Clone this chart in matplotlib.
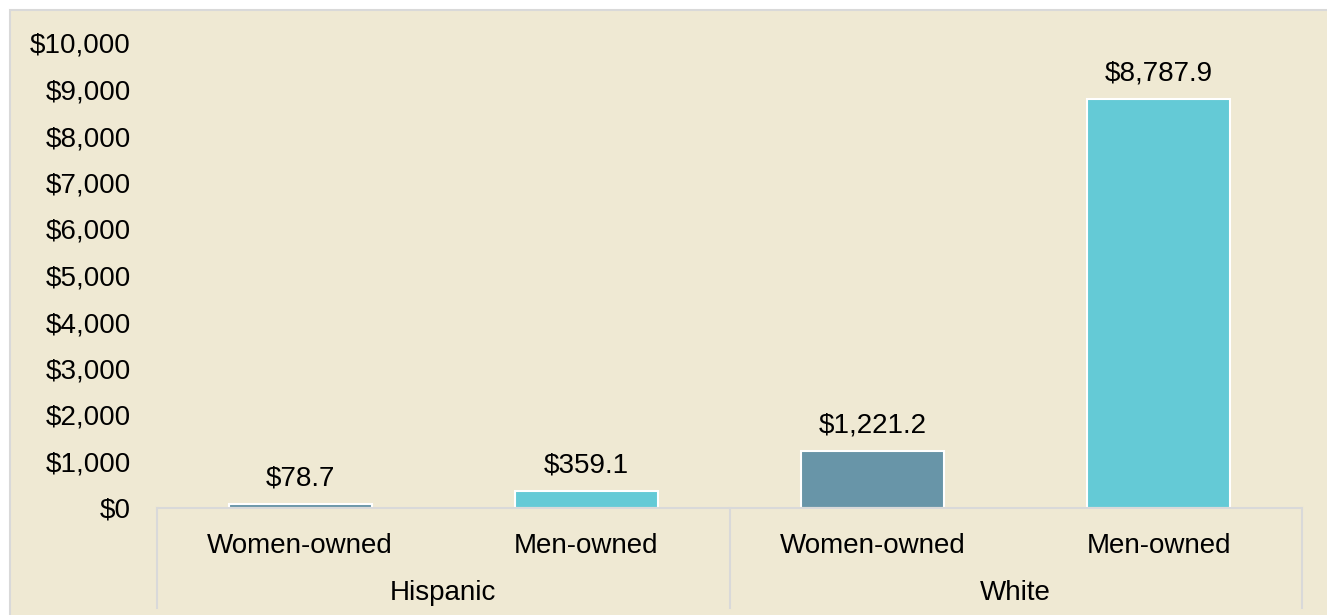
import matplotlib
matplotlib.use("Agg")
import matplotlib.pyplot as plt
from matplotlib.patches import Rectangle
from matplotlib.ticker import FuncFormatter

plt.rcParams['font.family'] = ['Liberation Sans', 'DejaVu Sans']

# data
groups = ["Hispanic", "White"]
subcats = ["Women-owned", "Men-owned", "Women-owned", "Men-owned"]
values = [78.7, 359.1, 1221.2, 8787.9]
colors = ["#6895A8", "#64CAD6", "#6895A8", "#64CAD6"]

bg = "#EFE9D3"
grid_c = "#D9D9D9"

fig = plt.figure(figsize=(13.27, 6.15), dpi=100)
fig.patch.set_facecolor("white")
fig.patches.append(Rectangle((10 / 1327, -0.01), 1.02, 0.01 + (615 - 10) / 615,
                             transform=fig.transFigure, facecolor=bg,
                             edgecolor=grid_c, linewidth=1.5, zorder=-1))

ax = fig.add_axes([157 / 1327, 1 - 508 / 615, (1302 - 157) / 1327, (508 - 43) / 615])
ax.set_facecolor("none")

x = list(range(len(values)))
bars = ax.bar(x, values, width=0.5, color=colors, edgecolor="white", linewidth=1.5, zorder=2)
ax.bar_label(bars, labels=["$" + format(v, ",.1f") for v in values], padding=9, fontsize=20)

ax.set_xlim(-0.5, len(values) - 0.5)
ax.set_ylim(0, 10000)
ax.set_yticks(range(0, 10001, 1000))
ax.yaxis.set_major_formatter(FuncFormatter(lambda v, p: "$" + format(int(v), ",")))
ax.tick_params(axis="y", length=0, pad=19, labelsize=20)

for s in ["top", "right", "left"]:
    ax.spines[s].set_visible(False)
ax.spines["bottom"].set_color(grid_c)
ax.spines["bottom"].set_linewidth(1.5)

ax.set_xticks(x)
ax.set_xticklabels(subcats, fontsize=20)
ax.tick_params(axis="x", length=0, pad=18)

# group labels and separators
trans = ax.get_xaxis_transform()
ncat = len(subcats) // len(groups)
for i, g in enumerate(groups):
    ax.text(i * ncat + (ncat - 1) / 2, -0.183, g, transform=trans, ha="center",
            va="center", fontsize=20)
for xs in range(0, len(values) + 1, ncat):
    ax.plot([xs - 0.5, xs - 0.5], [0, -0.215], transform=trans, color=grid_c,
            linewidth=1.5, clip_on=False)

fig.savefig("out.png", dpi=100, facecolor=fig.get_facecolor())
